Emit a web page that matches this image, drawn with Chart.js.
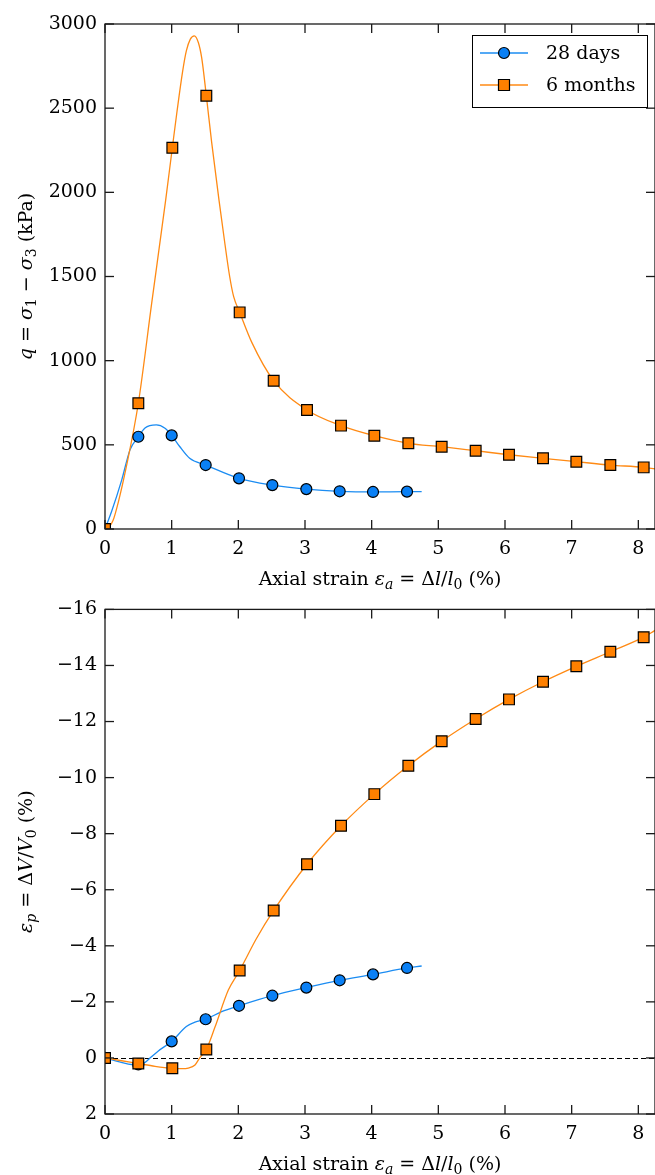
<!DOCTYPE html>
<html><head><meta charset="utf-8">
<script src="https://cdn.jsdelivr.net/npm/chart.js@4.4.0/dist/chart.umd.min.js"></script>
<style>
html,body{margin:0;padding:0;background:#fff;}
#wrap{width:655px;height:1175px;position:relative;overflow:hidden;}
canvas{display:block;}
</style>
</head><body>
<div id="wrap">
<canvas id="c1" width="655" height="590"></canvas>
<canvas id="c2" width="655" height="585"></canvas>
</div>
<script>
// ---------- data ----------
const seriesNames = ['28 days', '6 months'];

// measured points (markers)
const strain28 = [0, 0.5, 1.0, 1.51, 2.01, 2.51, 3.02, 3.52, 4.02, 4.53];
const q28      = [0, 548, 556, 380, 301, 261, 237, 224, 220, 222];
const ev28     = [0, 0.23, -0.59, -1.38, -1.86, -2.22, -2.51, -2.77, -2.98, -3.21];

const strain6m = [0, 0.5, 1.01, 1.52, 2.02, 2.53, 3.03, 3.54, 4.04, 4.55, 5.05, 5.56, 6.06, 6.57, 7.07, 7.58, 8.08];
const q6m      = [0, 747, 2265, 2574, 1287, 881, 707, 614, 554, 509, 489, 465, 441, 420, 400, 380, 366];
const ev6m     = [0, 0.2, 0.37, -0.30, -3.12, -5.26, -6.91, -8.28, -9.41, -10.42, -11.30, -12.09, -12.79, -13.42, -13.97, -14.49, -15.01];

// smooth fitted curves
const qFit28X  = [0, 0.1, 0.25, 0.375, 0.5, 0.6, 0.77, 0.9, 1.0, 1.12, 1.27, 1.51, 2.01, 2.51, 3.02, 3.52, 4.02, 4.53, 4.75];
const qFit28Y  = [0, 105, 290, 470, 548, 600, 618, 598, 556, 490, 420, 380, 301, 261, 237, 224, 220, 222, 222];

const qFit6mX  = [0.04, 0.12, 0.2, 0.32, 0.5, 0.7, 0.91, 1.01, 1.08, 1.165, 1.22, 1.28, 1.34, 1.40, 1.45, 1.52, 1.6, 1.71, 1.8, 1.87, 1.93, 2.02, 2.2, 2.53, 3.03, 3.54, 4.04, 4.55, 5.05, 5.56, 6.06, 6.57, 7.07, 7.58, 8.08, 8.25];
const qFit6mY  = [0, 50, 160, 370, 747, 1340, 1954, 2265, 2480, 2720, 2840, 2910, 2930, 2890, 2800, 2574, 2297, 1954, 1690, 1500, 1380, 1287, 1110, 881, 707, 614, 554, 509, 489, 465, 441, 420, 400, 380, 366, 357];

const evFit28X = [0, 0.2, 0.35, 0.5, 0.6, 0.675, 0.8, 1.0, 1.22, 1.35, 1.51, 1.75, 2.01, 2.51, 3.02, 3.52, 4.02, 4.53, 4.75];
const evFit28Y = [0, 0.13, 0.22, 0.25, 0.16, 0, -0.25, -0.59, -1.12, -1.28, -1.38, -1.65, -1.86, -2.22, -2.51, -2.77, -2.98, -3.21, -3.28];

const evFit6mX = [0, 0.25, 0.5, 0.75, 1.01, 1.15, 1.25, 1.35, 1.42, 1.52, 1.65, 1.85, 2.02, 2.27, 2.53, 3.03, 3.54, 4.04, 4.55, 5.05, 5.56, 6.06, 6.57, 7.07, 7.58, 8.08, 8.25];
const evFit6mY = [0, 0.1, 0.2, 0.3, 0.37, 0.38, 0.36, 0.25, 0, -0.30, -1.1, -2.42, -3.12, -4.25, -5.26, -6.91, -8.28, -9.41, -10.42, -11.30, -12.09, -12.79, -13.42, -13.97, -14.49, -15.01, -15.25];

// tick labels
const xTicks  = [0, 1, 2, 3, 4, 5, 6, 7, 8];
const qTicks  = [0, 500, 1000, 1500, 2000, 2500, 3000];
const evTicks = [-16, -14, -12, -10, -8, -6, -4, -2, 0, 2];

// ---------- styling ----------
const SERIF = "'DejaVu Serif', 'Liberation Serif', serif";
const FS = 19;
const BLUE_FILL = '#0a80f5', BLUE_LINE = '#1b8cf2';
const ORANGE_FILL = '#ff8000', ORANGE_LINE = '#ff8a14';
const AXIS = '#1a1a1a';

function pts(xs, ys) { return xs.map((x, i) => ({x: x, y: ys[i]})); }

function fontFor(s, F) {
  const size = s.s ? Math.round(F * 0.72) : F;
  return (s.i ? 'italic ' : '') + size + 'px ' + SERIF;
}
function drawRich(ctx, segs, cx, cy, F, rot) {
  ctx.save();
  ctx.translate(cx, cy);
  if (rot) ctx.rotate(-Math.PI / 2);
  ctx.fillStyle = '#000';
  ctx.textBaseline = 'alphabetic';
  ctx.textAlign = 'left';
  let w = 0;
  segs.forEach(s => { ctx.font = fontFor(s, F); w += ctx.measureText(s.t).width; });
  let x = -w / 2;
  segs.forEach(s => {
    ctx.font = fontFor(s, F);
    ctx.fillText(s.t, x, F * 0.36 + (s.s ? F * 0.24 : 0));
    x += ctx.measureText(s.t).width;
  });
  ctx.restore();
}

const xTitle = [{t:'Axial strain '}, {t:'ε', i:1}, {t:'a', i:1, s:1}, {t:' = Δ'}, {t:'l', i:1}, {t:'/'}, {t:'l', i:1}, {t:'0', s:1}, {t:' (%)'}];
const qTitle = [{t:'q', i:1}, {t:' = '}, {t:'σ', i:1}, {t:'1', s:1}, {t:' − '}, {t:'σ', i:1}, {t:'3', s:1}, {t:' (kPa)'}];
const evTitle = [{t:'ε', i:1}, {t:'p', i:1, s:1}, {t:' = Δ'}, {t:'V', i:1}, {t:'/'}, {t:'V', i:1}, {t:'0', s:1}, {t:' (%)'}];

function line(ctx, x1, y1, x2, y2) { ctx.beginPath(); ctx.moveTo(x1, y1); ctx.lineTo(x2, y2); ctx.stroke(); }

const deco = {
  id: 'deco',
  beforeDatasetsDraw(chart, args, o) {
    if (!o.zero) return;
    const {ctx, chartArea: a, scales: {y}} = chart;
    const py = Math.round(y.getPixelForValue(0)) + 0.5;
    ctx.save();
    ctx.strokeStyle = '#000'; ctx.lineWidth = 1; ctx.setLineDash([5, 3]);
    line(ctx, a.left, py, a.right, py);
    ctx.restore();
  },
  afterDatasetsDraw(chart, args, o) {
    const {ctx, chartArea: a, scales: {x, y}} = chart;
    ctx.save();
    ctx.strokeStyle = AXIS; ctx.lineWidth = 1.3;
    ctx.strokeRect(a.left, a.top, a.right - a.left, a.bottom - a.top);
    const L = 9;
    x.ticks.forEach(t => {
      const px = x.getPixelForValue(t.value);
      line(ctx, px, a.bottom, px, a.bottom - L);
      line(ctx, px, a.top, px, a.top + L);
    });
    y.ticks.forEach(t => {
      const py = y.getPixelForValue(t.value);
      line(ctx, a.left, py, a.left + L, py);
      line(ctx, a.right, py, a.right - L, py);
    });
    ctx.restore();
  },
  afterDraw(chart, args, o) {
    const {ctx, chartArea: a} = chart;
    drawRich(ctx, xTitle, (a.left + a.right) / 2, o.xTitleY, FS, false);
    drawRich(ctx, o.yTitle, 25, (a.top + a.bottom) / 2, FS, true);
    if (o.legend) {
      const w = 175, h = 72;
      const lx = a.right - 8 - w, ly = a.top + 11;
      ctx.save();
      ctx.fillStyle = '#fff'; ctx.fillRect(lx, ly, w, h);
      ctx.strokeStyle = '#000'; ctx.lineWidth = 1; ctx.strokeRect(lx + 0.5, ly + 0.5, w, h);
      const rows = [
        {name: seriesNames[0], line: BLUE_LINE, fill: BLUE_FILL, shape: 'circle'},
        {name: seriesNames[1], line: ORANGE_LINE, fill: ORANGE_FILL, shape: 'rect'}
      ];
      rows.forEach((r, i) => {
        const cy = ly + 18 + i * 32;
        ctx.strokeStyle = r.line; ctx.lineWidth = 1.3;
        line(ctx, lx + 8, cy, lx + 56, cy);
        ctx.fillStyle = r.fill; ctx.strokeStyle = '#000'; ctx.lineWidth = 1.2;
        ctx.beginPath();
        if (r.shape === 'circle') ctx.arc(lx + 32, cy, 5.5, 0, Math.PI * 2);
        else ctx.rect(lx + 26.5, cy - 5.5, 11, 11);
        ctx.fill(); ctx.stroke();
        ctx.fillStyle = '#000'; ctx.font = FS + 'px ' + SERIF;
        ctx.textBaseline = 'middle'; ctx.textAlign = 'left';
        ctx.fillText(r.name, lx + 74, cy + 1);
      });
      ctx.restore();
    }
  }
};

function makeDatasets(fit28x, fit28y, fit6x, fit6y, m28y, m6y) {
  return [
    {label: seriesNames[1], data: pts(strain6m, m6y), showLine: false, pointStyle: 'rect', pointRadius: 7.6,
     pointBackgroundColor: ORANGE_FILL, pointBorderColor: '#000', pointBorderWidth: 1.2, clip: 0},
    {label: seriesNames[0], data: pts(strain28, m28y), showLine: false, pointStyle: 'circle', pointRadius: 5.5,
     pointBackgroundColor: BLUE_FILL, pointBorderColor: '#000', pointBorderWidth: 1.2, clip: 0},
    {label: seriesNames[1] + ' fit', data: pts(fit6x, fit6y), showLine: true, pointRadius: 0, borderColor: ORANGE_LINE,
     borderWidth: 1.3, cubicInterpolationMode: 'monotone', fill: false, clip: 0},
    {label: seriesNames[0] + ' fit', data: pts(fit28x, fit28y), showLine: true, pointRadius: 0, borderColor: BLUE_LINE,
     borderWidth: 1.3, cubicInterpolationMode: 'monotone', fill: false, clip: 0}
  ];
}

function fmt(v) { return String(v).replace('-', '\u2212'); }

function makeChart(id, datasets, yCfg, topPad, decoOpts) {
  return new Chart(document.getElementById(id), {
    type: 'scatter',
    data: {datasets: datasets},
    options: {
      responsive: false, animation: false, devicePixelRatio: 1,
      layout: {autoPadding: false, padding: {top: topPad, right: 0, left: 0, bottom: 0}},
      plugins: {legend: {display: false}, tooltip: {enabled: false}, deco: decoOpts},
      scales: {
        x: {type: 'linear', min: 0, max: 8.25,
            afterBuildTicks: s => { s.ticks = xTicks.map(v => ({value: v})); },
            afterFit: s => { s.height = 61; },
            grid: {display: false, drawTicks: false}, border: {display: false},
            ticks: {font: {family: SERIF, size: FS}, color: '#000', padding: 9, maxRotation: 0, autoSkip: false, callback: v => fmt(v)}},
        y: Object.assign({type: 'linear',
            afterFit: s => { s.width = 105; },
            grid: {display: false, drawTicks: false}, border: {display: false},
            ticks: {font: {family: SERIF, size: FS}, color: '#000', padding: 8, autoSkip: false, callback: v => fmt(v)}}, yCfg)
      }
    },
    plugins: [deco]
  });
}

makeChart('c1', makeDatasets(qFit28X, qFit28Y, qFit6mX, qFit6mY, q28, q6m),
  {min: 0, max: 3000, afterBuildTicks: s => { s.ticks = qTicks.map(v => ({value: v})); }},
  24, {legend: true, zero: false, yTitle: qTitle, xTitleY: 578});

makeChart('c2', makeDatasets(evFit28X, evFit28Y, evFit6mX, evFit6mY, ev28, ev6m),
  {min: -16, max: 2, reverse: true, afterBuildTicks: s => { s.ticks = evTicks.map(v => ({value: v})); }},
  19, {legend: false, zero: true, yTitle: evTitle, xTitleY: 573});
</script>
</body></html>
